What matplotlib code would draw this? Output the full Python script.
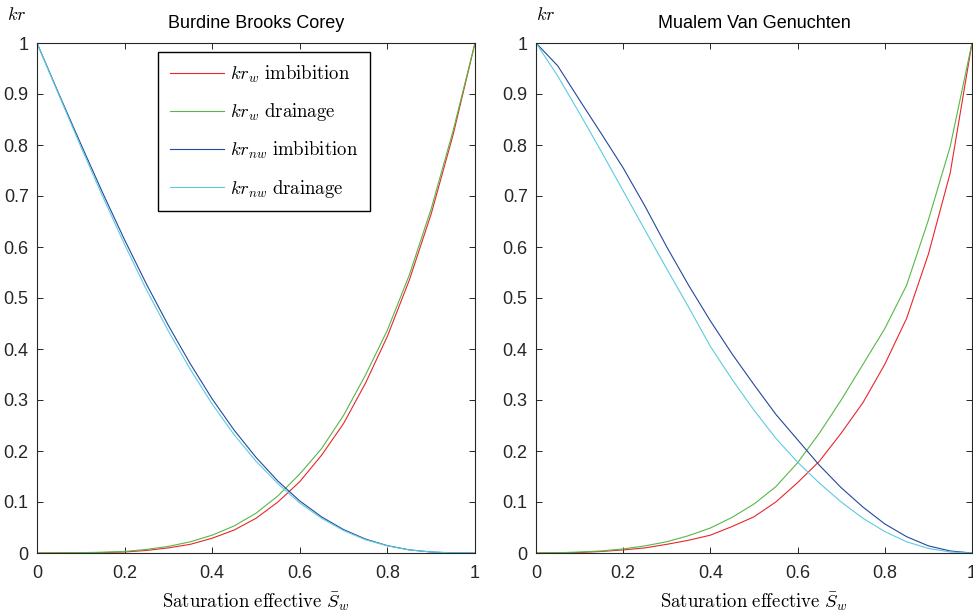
import matplotlib
matplotlib.use('Agg')
import matplotlib.pyplot as plt

plt.rcParams['font.family'] = ['Liberation Sans', 'DejaVu Sans']
plt.rcParams['mathtext.fontset'] = 'cm'

# effective saturation, sampled every 0.05
sw = [0.0, 0.05, 0.1, 0.15, 0.2, 0.25, 0.3, 0.35, 0.4, 0.45, 0.5,
      0.55, 0.6, 0.65, 0.7, 0.75, 0.8, 0.85, 0.9, 0.95, 1.0]

# Burdine Brooks Corey
bc_krw_imb = [0.0, 0.0002, 0.0005, 0.001, 0.002, 0.005, 0.01, 0.017, 0.029, 0.045, 0.068,
              0.1, 0.14, 0.192, 0.254, 0.333, 0.425, 0.535, 0.665, 0.82, 1.0]
bc_krw_dra = [0.0, 0.0003, 0.0007, 0.0015, 0.003, 0.007, 0.013, 0.022, 0.035, 0.053, 0.078,
              0.112, 0.155, 0.205, 0.27, 0.349, 0.437, 0.545, 0.675, 0.828, 1.0]
bc_krnw_imb = [1.0, 0.9, 0.802, 0.706, 0.614, 0.527, 0.446, 0.371, 0.302, 0.241, 0.1875,
               0.141, 0.102, 0.0707, 0.0459, 0.0273, 0.0144, 0.0062, 0.0019, 0.0002, 0.0]
bc_krnw_dra = [1.0, 0.898, 0.797, 0.699, 0.605, 0.516, 0.435, 0.36, 0.292, 0.232, 0.18,
               0.136, 0.098, 0.068, 0.044, 0.026, 0.014, 0.006, 0.002, 0.0002, 0.0]

# Mualem Van Genuchten
vg_krw_imb = [0.0, 0.0003, 0.001, 0.003, 0.006, 0.01, 0.017, 0.025, 0.035, 0.052, 0.071,
              0.1, 0.138, 0.18, 0.235, 0.295, 0.37, 0.46, 0.586, 0.745, 1.0]
vg_krw_dra = [0.0, 0.0005, 0.002, 0.004, 0.008, 0.014, 0.022, 0.034, 0.049, 0.07, 0.096,
              0.13, 0.177, 0.235, 0.30, 0.37, 0.44, 0.525, 0.653, 0.797, 1.0]
vg_krnw_imb = [1.0, 0.955, 0.888, 0.822, 0.755, 0.68, 0.6, 0.525, 0.455, 0.39, 0.33,
               0.272, 0.222, 0.172, 0.128, 0.09, 0.057, 0.032, 0.014, 0.004, 0.0]
vg_krnw_dra = [1.0, 0.935, 0.862, 0.787, 0.71, 0.633, 0.557, 0.482, 0.405, 0.34, 0.28,
               0.225, 0.178, 0.137, 0.1, 0.068, 0.042, 0.022, 0.009, 0.002, 0.0]

titles = ['Burdine Brooks Corey', 'Mualem Van Genuchten']
labels = [r'$kr_w\ \mathrm{imbibition}$', r'$kr_w\ \mathrm{drainage}$',
          r'$kr_{nw}\ \mathrm{imbibition}$', r'$kr_{nw}\ \mathrm{drainage}$']
colors = ['#e8262b', '#55b847', '#23489c', '#5ccbe0']
xticks = [0, 0.2, 0.4, 0.6, 0.8, 1]
xticklabels = ['0', '0.2', '0.4', '0.6', '0.8', '1']
yticks = [0, 0.1, 0.2, 0.3, 0.4, 0.5, 0.6, 0.7, 0.8, 0.9, 1]
yticklabels = ['0', '0.1', '0.2', '0.3', '0.4', '0.5', '0.6', '0.7', '0.8', '0.9', '1']

fig = plt.figure(figsize=(9.73, 6.16), dpi=100)
ax1 = fig.add_axes([37 / 973, 63 / 616, 438 / 973, 510 / 616])
ax2 = fig.add_axes([536 / 973, 63 / 616, 436 / 973, 510 / 616])

data = [
    [bc_krw_imb, bc_krw_dra, bc_krnw_imb, bc_krnw_dra],
    [vg_krw_imb, vg_krw_dra, vg_krnw_imb, vg_krnw_dra],
]
kr_pos = [(-0.046, 1.054), (0.023, 1.054)]

for ax, curves, title, kpos in zip([ax1, ax2], data, titles, kr_pos):
    for y, c, lab in zip(curves, colors, labels):
        ax.plot(sw, y, color=c, lw=0.8, label=lab)
    ax.set_xlim(0, 1)
    ax.set_ylim(0, 1)
    ax.set_xticks(xticks)
    ax.set_xticklabels(xticklabels)
    ax.set_yticks(yticks)
    ax.set_yticklabels(yticklabels)
    ax.tick_params(direction='in', top=True, right=True, length=4.5, width=0.7,
                   labelsize=13, colors='#262626', pad=6)
    ax.tick_params(axis='x', pad=9)
    for sp in ax.spines.values():
        sp.set_color('#262626')
        sp.set_linewidth(0.8)
    ax.set_title(title, fontsize=13, pad=11)
    ax.set_xlabel(r'$\mathrm{Saturation\ effective}\ \bar{S}_w$', fontsize=13.5, labelpad=6)
    ax.text(kpos[0], kpos[1], r'$kr$', transform=ax.transAxes, fontsize=13,
            ha='center', va='center')

leg = ax1.legend(loc='upper left', bbox_to_anchor=(0.276, 0.982), fontsize=13.5,
                 frameon=True, fancybox=False, edgecolor='black', framealpha=1,
                 handlelength=2.9, handletextpad=0.32, labelspacing=0.88,
                 borderpad=0.62, borderaxespad=0)
leg.get_frame().set_linewidth(1.0)

fig.savefig('out.png', dpi=100)
